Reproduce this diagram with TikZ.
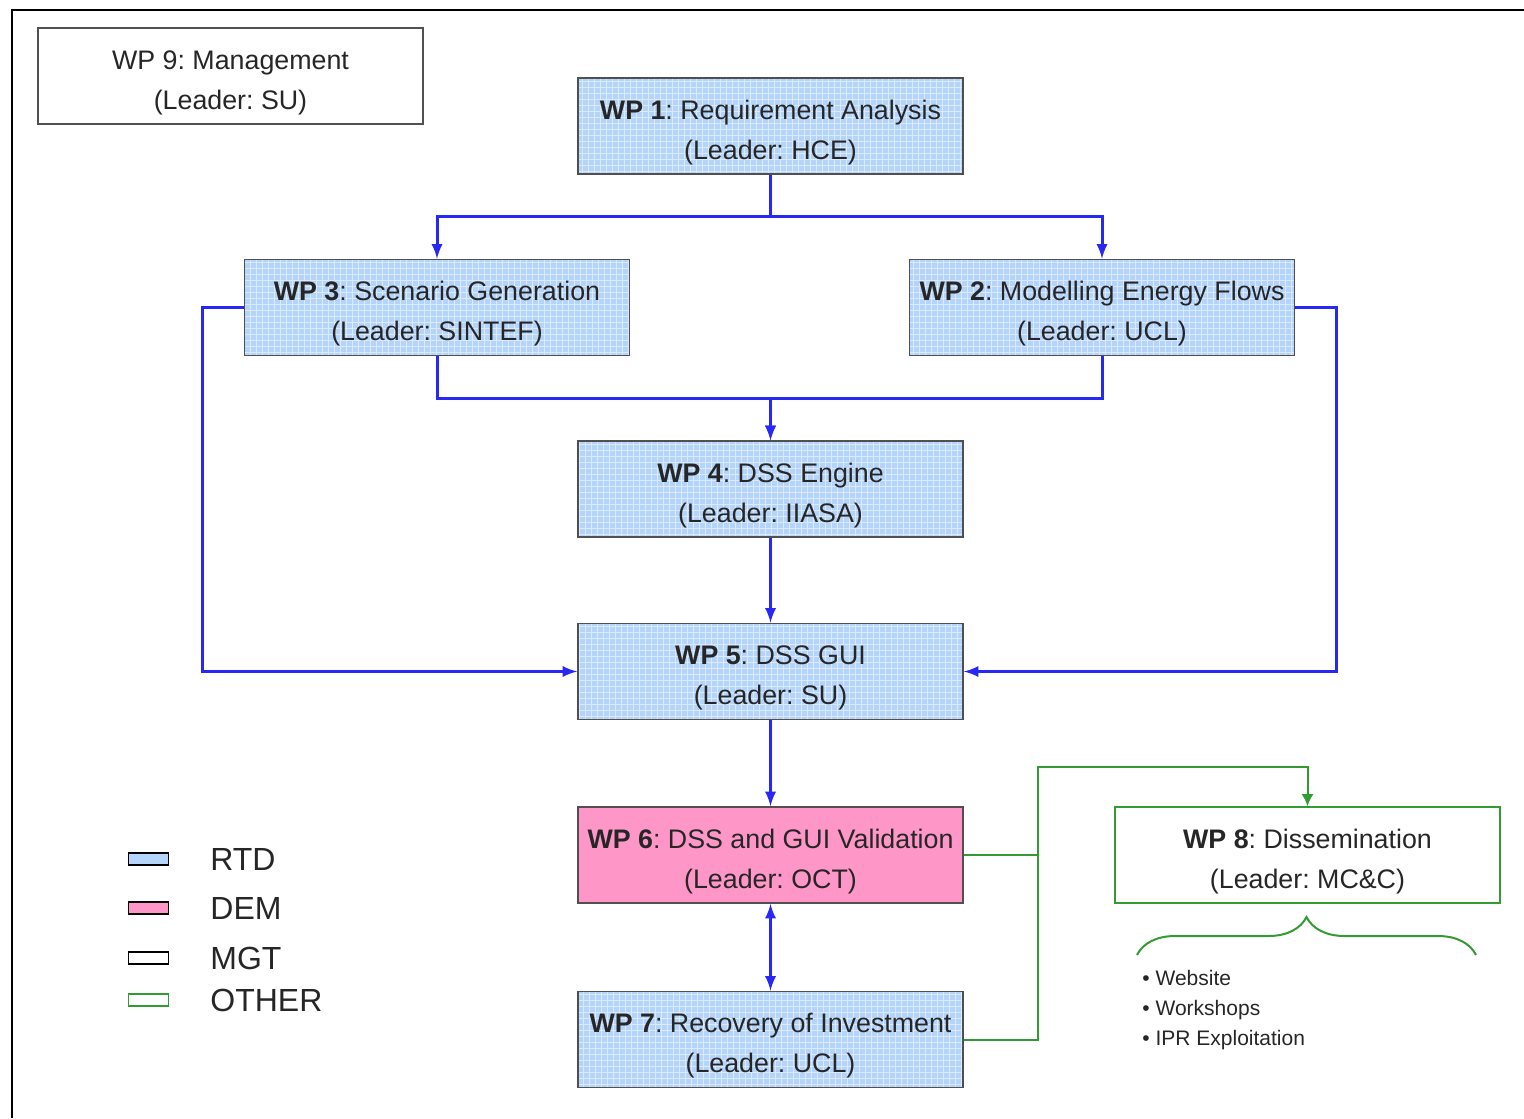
\documentclass[tikz,border=0pt]{standalone}
\usepackage{fontspec}
\setmainfont{Liberation Sans}
\usetikzlibrary{decorations.pathreplacing}
\usetikzlibrary{arrows.meta}
\definecolor{rtdblue}{RGB}{180,212,250}
\definecolor{dempink}{RGB}{255,150,200}
\definecolor{flowblue}{RGB}{40,40,245}
\definecolor{othergreen}{RGB}{50,155,50}
\definecolor{boxgrey}{RGB}{80,80,80}
\frenchspacing
\newcommand{\wplabel}[3]{\rule{0pt}{16pt}\textbf{WP #1}: #2\\(Leader: #3)}
\tikzset{
  wp/.style={draw=boxgrey, line width=0.8pt, minimum width=192.5pt, minimum height=48pt,
    align=center, inner sep=0pt, text=black!85, font=\fontsize{13.4}{20}\selectfont},
  gridded/.style={path picture={\draw[white!50!rtdblue, line width=0.3pt]
    (path picture bounding box.south west) grid[step=3pt] (path picture bounding box.north east);}},
  rtd/.style={wp, fill=rtdblue, gridded},
  dem/.style={wp, fill=dempink},
  mgt/.style={wp, fill=white},
  other/.style={wp, draw=othergreen, fill=white},
  flow/.style={draw=flowblue, line width=1.5pt},
  otherflow/.style={draw=othergreen, line width=1pt, >={Latex[length=6pt, width=6pt]}},
  key/.style={draw=black, line width=0.8pt, minimum width=20pt, minimum height=6pt, inner sep=0pt},
  keytext/.style={anchor=west, inner sep=0pt, text=black!85, font=\fontsize{16}{16}\selectfont},
}
\begin{document}
\begin{tikzpicture}[x=0.5pt, y=-0.5pt, >=latex]
        \useasboundingbox (0,0) rectangle (1524,1118);
        \draw[line width=1pt] (12,1118) -- (12,10) -- (1524,10);
        
        \node[mgt] (wp9) at (230.5, 76) {\rule{0pt}{16pt}WP 9: Management\\(Leader: SU)};
        
        \node[rtd] (wp1) at (770.5, 126) {\wplabel{1}{Requirement Analysis}{HCE}};
        \node[rtd] (wp3) at (437, 307.5) {\wplabel{3}{Scenario Generation}{SINTEF}};
        \node[rtd] (wp2) at (1102, 307.5) {\wplabel{2}{Modelling Energy Flows}{UCL}};
        \node[rtd] (wp4) at (770.5, 489) {\wplabel{4}{DSS Engine}{IIASA}};
        \node[rtd] (wp5) at (770.5, 671.5) {\wplabel{5}{DSS GUI}{SU}};
        \node[dem] (wp6) at (770.5, 855) {\wplabel{6}{DSS and GUI Validation}{OCT}};
        \node[rtd] (wp7) at (770.5, 1039.5) {\wplabel{7}{Recovery of Investment}{UCL}};
        \node[other] (wp8) at (1307.5, 855) {\wplabel{8}{Dissemination}{MC\&C}};
        
        \draw[flow, ->] (wp1.south) -- ++(0,42) -| (wp3.north);
        \draw[flow, ->] (wp1.south) -- ++(0,42) -| (wp2.north);
        \draw[flow, ->] (wp3.south) -- ++(0,42) -| (wp4.north);
        \draw[flow, ->] (wp2.south) -- ++(0,42) -| (wp4.north);
        \draw[flow, ->] (wp3.west) -- ++(-41,0) |- (wp5.west);
        \draw[flow, ->] (wp2.east) -- ++(41,0) |- (wp5.east);
        \draw[flow, ->] (wp4) -- (wp5);
        \draw[flow, ->] (wp5) -- (wp6);
        \draw[flow, <->] (wp6) -- (wp7);
        
        \coordinate (gtop) at (1038, 767);
        \draw[otherflow] (wp6.east) -- (wp6.east -| gtop);
        \draw[otherflow, ->] (wp7.east) -| (gtop) -| (wp8.north);
        
        \coordinate (bl) at (1137, 955);
        \coordinate (br) at (1476, 955);
        \draw[otherflow, decorate, decoration={brace, amplitude=19pt}] (bl) -- (br);
        \node[anchor=north west, align=left, inner sep=0pt, text=black!85,
              font=\fontsize{10.5}{15}\selectfont] (items) at (1142, 970)
              {\textbullet\ Website\\\textbullet\ Workshops\\\textbullet\ IPR Exploitation};
        
        \node[key, fill=rtdblue] (krtd) at (148.5, 859) {};
        \node[key, fill=dempink] (kdem) at (148.5, 908) {};
        \node[key, fill=white] (kmgt) at (148.5, 958) {};
        \node[key, draw=othergreen, fill=white] (kother) at (148.5, 1000) {};
        \node[keytext] (trtd) at (210, 859) {RTD};
        \node[keytext] (tdem) at (210, 908) {DEM};
        \node[keytext] (tmgt) at (210, 958) {MGT};
        \node[keytext] (tother) at (210, 1000) {OTHER};
    \end{tikzpicture}
\end{document}
